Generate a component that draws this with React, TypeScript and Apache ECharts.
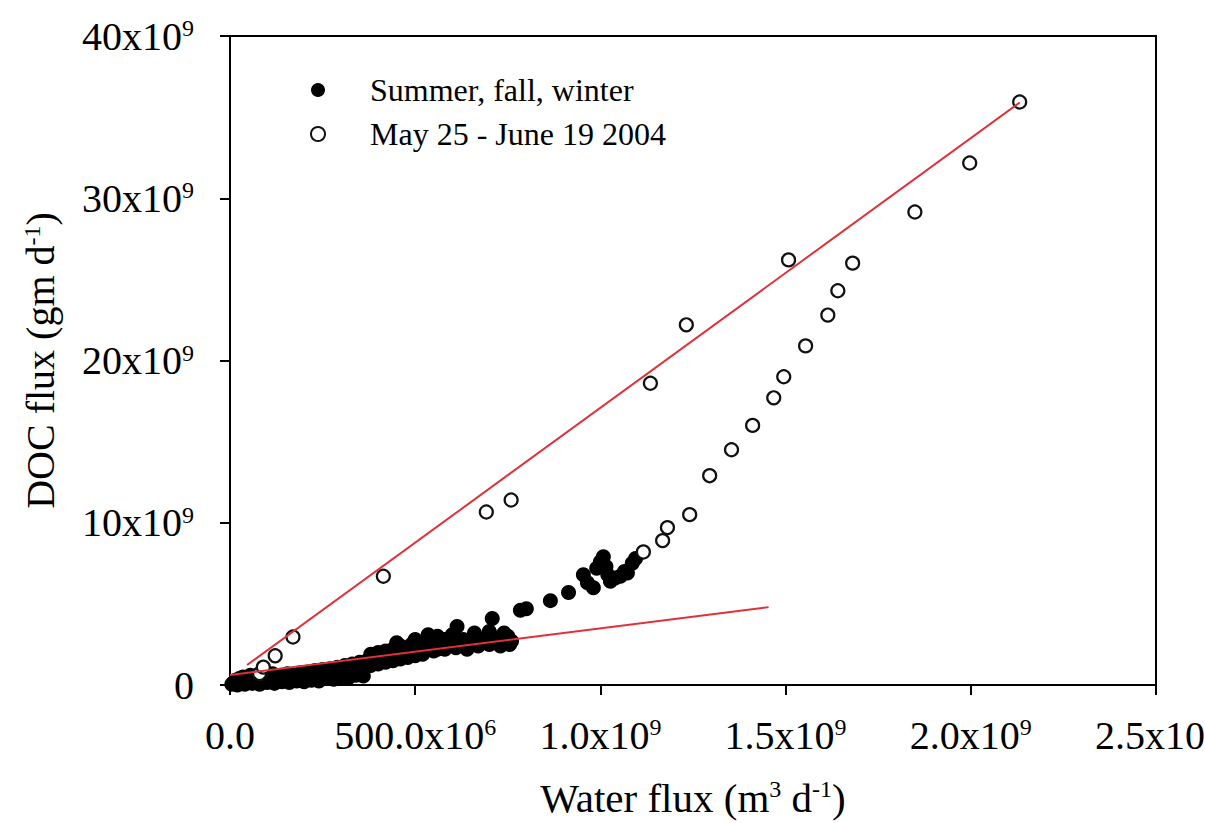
import React, { useEffect, useRef } from "react";
import * as echarts from "echarts";

// Water flux in units of 1e9 m3/d, DOC flux in units of 1e9 g/d
const summerFallWinter: [number, number][] = [
  [0.005, 0.05], [0.01, 0.15], [0.015, 0.3], [0.02, 0.1], [0.025, 0.4], [0.03, 0.2],
  [0.035, 0.5], [0.04, 0.3], [0.045, 0.15], [0.05, 0.45], [0.055, 0.6], [0.06, 0.25],
  [0.065, 0.4], [0.07, 0.55], [0.075, 0.3], [0.08, 0.2], [0.085, 0.5], [0.09, 0.35],
  [0.095, 0.6], [0.1, 0.45], [0.105, 0.25], [0.11, 0.5], [0.115, 0.7], [0.12, 0.35],
  [0.13, 0.55], [0.135, 0.3], [0.14, 0.6], [0.15, 0.45], [0.155, 0.7], [0.16, 0.4],
  [0.17, 0.6], [0.18, 0.5], [0.19, 0.75], [0.2, 0.55], [0.21, 0.8], [0.22, 0.6],
  [0.23, 0.9], [0.24, 0.7], [0.25, 0.95], [0.26, 0.75], [0.27, 1.0], [0.28, 0.8],
  [0.29, 1.1], [0.3, 0.9], [0.31, 1.2], [0.32, 0.85], [0.33, 1.3], [0.34, 1.0],
  [0.35, 1.4], [0.36, 1.1], [0.37, 1.5], [0.375, 1.2], [0.38, 1.9], [0.39, 1.6],
  [0.4, 2.0], [0.41, 1.7], [0.42, 2.1], [0.43, 1.8], [0.44, 2.2], [0.45, 1.9],
  [0.46, 2.4], [0.47, 2.0], [0.48, 2.2], [0.49, 2.5], [0.5, 2.1], [0.51, 2.6],
  [0.52, 2.3], [0.535, 3.1], [0.54, 2.4], [0.55, 2.7], [0.56, 2.2], [0.57, 2.5],
  [0.58, 2.8], [0.59, 2.4], [0.6, 2.6], [0.613, 3.6], [0.62, 2.5], [0.63, 2.8],
  [0.64, 2.3], [0.65, 2.7], [0.66, 2.9], [0.67, 2.5], [0.68, 2.8], [0.69, 2.6],
  [0.7, 3.0], [0.708, 4.1], [0.71, 2.7], [0.72, 2.9], [0.73, 2.6], [0.74, 2.8],
  [0.75, 3.0], [0.76, 2.7], [0.784, 4.6], [0.8, 4.7], [0.865, 5.2], [0.914, 5.7],
  [0.954, 6.8], [0.965, 6.3], [0.981, 6.0], [0.99, 7.2], [1.0, 7.6], [1.008, 7.9],
  [1.015, 7.3], [1.02, 6.8], [1.027, 6.4], [1.04, 6.6], [1.054, 6.7], [1.065, 7.0],
  [1.073, 6.9], [1.086, 7.5], [1.095, 7.8],
  [0.02, 0.0], [0.04, 0.05], [0.06, 0.1], [0.08, 0.05], [0.1, 0.15], [0.12, 0.1],
  [0.14, 0.2], [0.16, 0.15], [0.18, 0.25], [0.2, 0.2], [0.22, 0.3], [0.24, 0.25],
  [0.26, 0.4], [0.28, 0.35], [0.3, 0.5], [0.32, 0.45], [0.34, 0.6], [0.36, 0.55],
  [0.38, 1.2], [0.4, 1.3], [0.42, 1.4], [0.44, 1.5], [0.46, 1.6], [0.48, 1.7],
  [0.5, 1.8], [0.52, 1.9], [0.55, 2.1], [0.58, 2.2], [0.61, 2.3], [0.64, 2.2],
  [0.67, 2.4], [0.7, 2.5], [0.73, 2.4], [0.755, 2.5], [0.45, 2.6], [0.5, 2.8],
  [0.56, 3.0], [0.6, 3.1], [0.66, 3.2], [0.7, 3.3], [0.74, 3.2],
];

const mayJune2004: [number, number][] = [
  [0.08, 0.7], [0.09, 1.1], [0.122, 1.8], [0.17, 2.96], [0.414, 6.7], [0.692, 10.66],
  [0.759, 11.4], [1.116, 8.2], [1.168, 8.9], [1.181, 9.7], [1.135, 18.6], [1.232, 22.2],
  [1.241, 10.5], [1.295, 12.9], [1.354, 14.5], [1.411, 16.0], [1.468, 17.7],
  [1.495, 19.0], [1.508, 26.2], [1.554, 20.9], [1.614, 22.8], [1.641, 24.3],
  [1.681, 26.0], [1.849, 29.15], [1.997, 32.17], [2.132, 35.93],
];

const fitSpring: [number, number][] = [[0.046, 1.23], [2.132, 35.9]];
const fitOther: [number, number][] = [[0.0, 0.62], [1.454, 4.8]];

const xTickValues = [0, 0.5, 1, 1.5, 2, 2.5];
const xTickLabels = ["0.0", "500.0x10{s|6}", "1.0x10{s|9}", "1.5x10{s|9}", "2.0x10{s|9}", "2.5x10{s|9}"];
const yTickValues = [0, 10, 20, 30, 40];
const yTickLabels = ["0", "10x10{s|9}", "20x10{s|9}", "30x10{s|9}", "40x10{s|9}"];

const seriesNames = ["Summer, fall, winter", "May 25 - June 19 2004"];

const FONT = "'Liberation Serif', 'Times New Roman', serif";

export default function App() {
  const ref = useRef<HTMLDivElement>(null);
  useEffect(() => {
    if (!ref.current) return;
    const chart = echarts.init(ref.current, undefined, { renderer: "svg" });
    const supRich = {
      s: { fontSize: 24, fontFamily: FONT, color: "#000", verticalAlign: "top" as const },
    };
    const lookup = (vals: number[], labels: string[]) => (v: number) => {
      const i = vals.findIndex((t) => Math.abs(t - v) < 1e-9);
      return i >= 0 ? labels[i] : "";
    };
    chart.setOption({
      animation: false,
      backgroundColor: "#fff",
      grid: {
        left: 230,
        top: 36,
        right: 49,
        bottom: 138,
        show: true,
        borderColor: "#000",
        borderWidth: 2,
        containLabel: false,
        outerBoundsMode: "none",
      },
      legend: {
        orient: "vertical",
        left: 305,
        top: 69,
        itemGap: 12,
        itemWidth: 14,
        itemHeight: 14,
        data: seriesNames,
        textStyle: {
          fontFamily: FONT,
          fontSize: 32,
          color: "#000",
          padding: [0, 0, 0, 40],
        },
      },
      xAxis: {
        type: "value",
        min: 0,
        max: 2.5,
        interval: 0.5,
        name: "Water flux (m{s|3} d{s|-1})",
        nameLocation: "middle",
        nameGap: 92,
        nameTextStyle: {
          fontFamily: FONT,
          fontSize: 41,
          color: "#000",
          rich: supRich,
        },
        axisLine: { show: true, lineStyle: { color: "#000", width: 2 } },
        axisTick: { show: true, inside: false, length: 10, lineStyle: { color: "#000", width: 2 } },
        splitLine: { show: false },
        axisLabel: {
          margin: 30,
          fontFamily: FONT,
          fontSize: 40,
          color: "#000",
          showMaxLabel: true,
          hideOverlap: false,
          formatter: lookup(xTickValues, xTickLabels),
          rich: supRich,
        },
      },
      yAxis: {
        type: "value",
        min: 0,
        max: 40,
        interval: 10,
        name: "DOC flux (gm d{s|-1})",
        nameLocation: "middle",
        nameGap: 170,
        nameTextStyle: {
          fontFamily: FONT,
          fontSize: 40,
          color: "#000",
          rich: supRich,
        },
        axisLine: { show: true, lineStyle: { color: "#000", width: 2 } },
        axisTick: { show: true, inside: false, length: 10, lineStyle: { color: "#000", width: 2 } },
        splitLine: { show: false },
        axisLabel: {
          margin: 36,
          fontFamily: FONT,
          fontSize: 40,
          color: "#000",
          formatter: lookup(yTickValues, yTickLabels),
          rich: supRich,
        },
      },
      series: [
        {
          name: seriesNames[0],
          type: "scatter",
          data: summerFallWinter,
          symbol: "circle",
          symbolSize: 15,
          itemStyle: { color: "#000", opacity: 1 },
          z: 2,
        },
        {
          name: seriesNames[1],
          type: "scatter",
          data: mayJune2004,
          symbol: "circle",
          symbolSize: 13,
          itemStyle: { color: "#fff", borderColor: "#111", borderWidth: 2.2, opacity: 1 },
          z: 3,
        },
        {
          name: "fit1",
          type: "line",
          data: fitSpring,
          showSymbol: false,
          symbol: "none",
          lineStyle: { color: "#e0303a", width: 2 },
          z: 4,
        },
        {
          name: "fit2",
          type: "line",
          data: fitOther,
          showSymbol: false,
          symbol: "none",
          lineStyle: { color: "#e0303a", width: 2 },
          z: 4,
        },
      ],
    });
    return () => chart.dispose();
  }, []);
  return (
    <div
      ref={ref}
      style={{ position: "fixed", left: 0, top: 0, width: 1205, height: 823, background: "#fff" }}
    />
  );
}
